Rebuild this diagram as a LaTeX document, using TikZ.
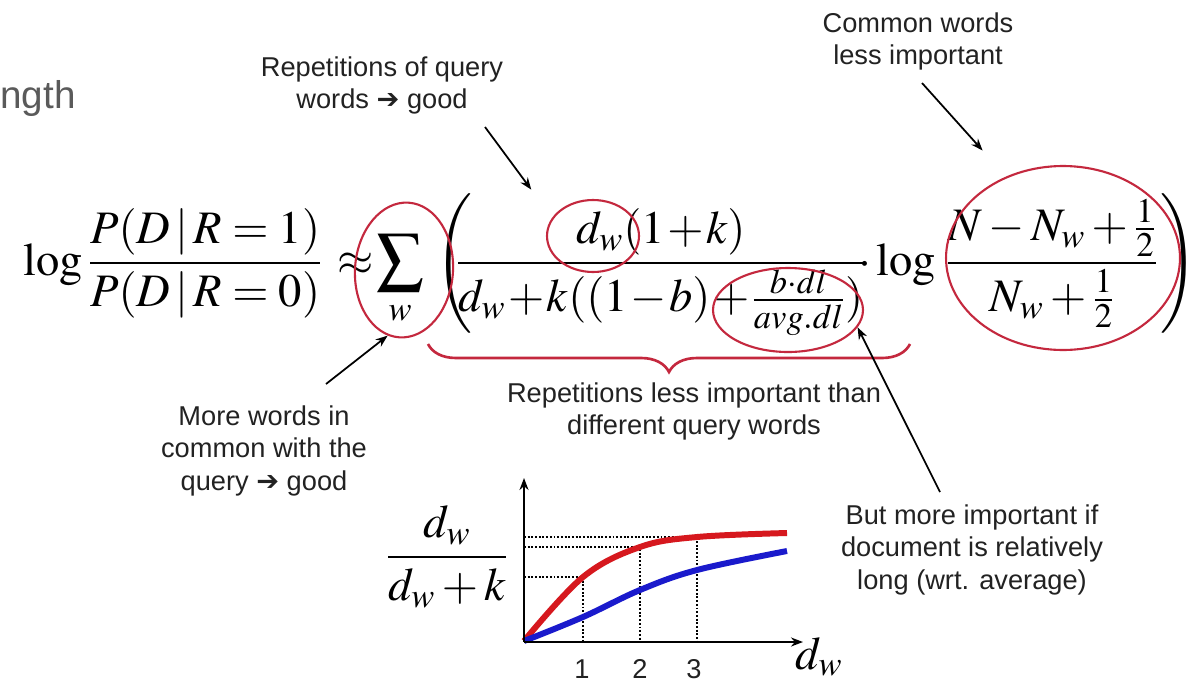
\documentclass[tikz,border=0pt]{standalone}
\usepackage{amsmath}
\usepackage{mathptmx}
\usepackage{fontspec}
\setmainfont{Liberation Serif}
\setsansfont{Liberation Sans}
\newfontfamily\dingfont{DejaVu Sans}
\usetikzlibrary{positioning,arrows.meta,decorations.pathreplacing,shapes.geometric}
\definecolor{bmRing}{RGB}{196,40,62}
\definecolor{bmRed}{RGB}{214,24,30}
\definecolor{bmBlue}{RGB}{26,26,204}
\definecolor{bmInk}{RGB}{34,34,34}
\definecolor{bmGray}{RGB}{90,90,90}
\newcommand{\goodarrow}{{\dingfont ➔}}
\tikzset{
    note/.style={font=\fontsize{15.5}{18.6}\selectfont\sffamily, text=bmInk, align=center, inner sep=0pt},
    formula/.style={font=\fontsize{26.5}{32}\selectfont, inner sep=0pt, anchor=base west},
    ring/.style={ellipse, draw=bmRing, line width=1.2pt, inner sep=0pt},
    pointer/.style={-{Stealth[length=2.4mm,width=1.8mm]}, line width=1pt, color=black},
    axis/.style={-{Stealth[length=2.4mm,width=1.8mm]}, line width=1.3pt},
    guide/.style={densely dotted, line width=1.1pt},
    curve/.style={line width=3.4pt}
}

\begin{document}
\begin{tikzpicture}[x=0.02cm, y=-0.02cm]
  \fill[white] (0,0) rectangle (1195,683);
  \useasboundingbox (0,0) rectangle (1195,683);

  % Cut-off slide title
  \node[font=\fontsize{22}{26}\selectfont\sffamily, text=bmGray, anchor=base west, inner sep=0pt] (cutnote) at (0,108) {ngth};

  % Formula
  \node[formula] (lhs) at (23,275) {$\log\dfrac{P(D\,|\,R=1)}{P(D\,|\,R=0)}$};
  \node[formula] (approx) at (337,275) {$\approx$};
  \node[formula, anchor=base] (sum) at (400,275) {$\displaystyle\sum_{w}$};
  \node[formula] (lpar) at (435,275) {$\Bigg($};
  \node[formula] (weight) at (456,275) {$\medmuskip=1mu\dfrac{d_w(1+k)}{d_w+k((1-b)+\frac{b\cdot dl}{avg.dl})}$};
  \node[formula] (clog) at (858,275) {${\cdot}\log$};
  \node[formula] (idf) at (946,275) {$\dfrac{N-N_w+\frac{1}{2}}{N_w+\frac{1}{2}}$};
  \node[formula] (rpar) at (1160,275) {$\Bigg)$};

  % Rings round the parts
  \node[ring, minimum width=1.96cm, minimum height=2.7cm, rotate=-4] (sumring) at (404,270) {};
  \node[ring, minimum width=1.84cm, minimum height=1.44cm] (dwring) at (593,236) {};
  \node[ring, minimum width=3.0cm, minimum height=1.68cm] (dlring) at (788,310) {};
  \node[ring, minimum width=4.68cm, minimum height=3.68cm] (idfring) at (1063,258) {};

  % Brace under the weight
  \draw[bmRing, line width=1.5pt, decorate, decoration={brace, mirror, amplitude=5.6mm, aspect=0.5}] (428,344) -- (910,344);

  % Annotations
  \node[note, anchor=north] (repnote) at (382,56) {Repetitions of query\\words \goodarrow{} good};
  \node[note, anchor=north] (commonnote) at (918,12) {Common words\\less important};
  \node[note, anchor=north] (morenote) at (264,405) {More words in\\common with the\\query \goodarrow{} good};
  \node[note, anchor=north] (lessnote) at (694,382) {Repetitions less important than\\different query words};
  \node[note, anchor=north] (longnote) at (972,504) {But more important if\\document is relatively\\long (wrt. average)};

  \coordinate (reptail) at (485,127);
  \coordinate (commontail) at (922,83);
  \coordinate (moretail) at (326,384);
  \coordinate (longtail) at (940,492);
  \draw[pointer, shorten >=7mm] (reptail) -- (dwring.156);
  \draw[pointer, shorten >=7mm] (commontail) -- (idfring.125);
  \draw[pointer] (moretail) -- (sumring.260);
  \draw[pointer] (longtail) -- (dlring.346);

  % Saturation plot
  \draw[guide] (524,577) -- (583,577) -- (583,642);
  \draw[guide] (524,547) -- (640,547) -- (640,642);
  \draw[guide] (524,537) -- (697,537) -- (697,642);
  \draw[curve, bmRed] plot[smooth, tension=0.6] coordinates {(524,641) (583,577) (640,547) (697,537) (787,533)};
  \draw[curve, bmBlue] plot[smooth, tension=0.6] coordinates {(524,641) (583,617) (640,590) (697,570) (787,551)};
  \draw[axis] (524,642) -- (524,478);
  \draw[axis] (524,642) -- (803,642);

  \node[formula, anchor=center] (ylab) at (447,557) {$\dfrac{d_w}{d_w+k}$};
  \node[formula] (xlab) at (795,669) {$d_w$};
  \node[note] (tick1) at (582,669) {1};
  \node[note] (tick2) at (640,669) {2};
  \node[note] (tick3) at (694,669) {3};
\end{tikzpicture}
\end{document}
